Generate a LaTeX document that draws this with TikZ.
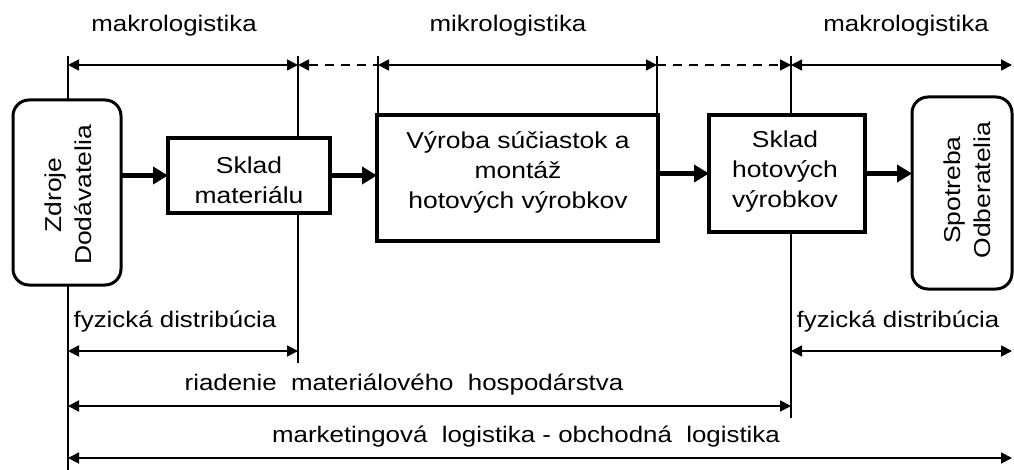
\documentclass[tikz,border=0pt]{standalone}
\usepackage{fontspec}
\setmainfont{Liberation Sans}[FakeStretch=1.15]
\usetikzlibrary{arrows.meta}
\begin{document}
\begin{tikzpicture}[x=1pt,y=-1pt,
  every node/.style={inner sep=0pt, outer sep=0pt},
  labeltext/.style={font=\fontsize{22.5}{28}\selectfont},
  boxtext/.style={font=\fontsize{23}{30}\selectfont, align=center},
  procbox/.style={draw, line width=3.5pt, fill=white},
  endbox/.style={draw, line width=3pt, fill=white, rounded corners=16pt},
  flow/.style={line width=4.5pt, -{Triangle[length=15pt,width=17pt]}},
  tipsym/.style={Triangle[length=11pt,width=11pt]},
  dimline/.style={line width=1.8pt, {Triangle[length=11pt,width=11pt]}-{Triangle[length=11pt,width=11pt]}},
  dashline/.style={line width=1.8pt, dash pattern=on 9pt off 7pt},
  guide/.style={line width=1.3pt},
]
\useasboundingbox (0,0) rectangle (1014,470);

% process chain
\node[endbox, minimum width=108pt, minimum height=185pt] (zdroje) at (67,192.5) {};
\node[boxtext, rotate=90] (zdrojetxt) at (68,195) {Zdroje\\Dodávatelia};

\node[procbox, minimum width=162pt, minimum height=75pt] (skladmat) at (249,175.5) {};
\node[boxtext] (skladmattxt) at (249,180) {Sklad\\materiálu};

\node[procbox, minimum width=281pt, minimum height=126pt] (vyroba) at (517.5,178) {};
\node[boxtext] (vyrobatxt) at (518,172) {Výroba súčiastok a\\montáž\\hotových výrobkov};

\node[procbox, minimum width=156pt, minimum height=117pt] (skladhot) at (787,173.5) {};
\node[boxtext] (skladhottxt) at (785,172) {Sklad\\hotových\\výrobkov};

\node[endbox, minimum width=100pt, minimum height=192pt] (spotreba) at (962,193) {};
\node[boxtext, rotate=90] (spotrebatxt) at (967,190) {Spotreba\\Odberatelia};

% material flow
\draw[flow] (zdroje.east |- skladmat.west) -- (skladmat.west);
\draw[flow] (skladmat.east) -- (skladmat.east -| vyroba.west);
\draw[flow] (vyroba.east |- skladhot.west) -- (skladhot.west);
\draw[flow] (skladhot.east) -- (skladhot.east -| spotreba.west);

% boundaries of the areas
\coordinate (ta) at (68,56);
\coordinate (tb) at (298,56);
\coordinate (tc) at (378,56);
\coordinate (td) at (657,56);
\coordinate (te) at (791,56);
\coordinate (tf) at (1012,56);
\coordinate (ba) at (68,470);
\coordinate (bb) at (298,363);
\coordinate (be) at (791,418);

\draw[guide] (ta) -- (ta |- zdroje.north);
\draw[guide] (ta |- zdroje.south) -- (ba);
\draw[guide] (tb) -- (tb |- skladmat.north);
\draw[guide] (tb |- skladmat.south) -- (bb);
\draw[guide] (tc) -- (tc |- vyroba.north);
\draw[guide] (td) -- (td |- vyroba.north);
\draw[guide] (te) -- (te |- skladhot.north);
\draw[guide] (te |- skladhot.south) -- (be);

% rows of dimension arrows
\coordinate (rtop) at (0,65);
\coordinate (rfd) at (0,351);
\coordinate (rrm) at (0,406);
\coordinate (rml) at (0,458);

\draw[dimline] (ta |- rtop) -- (tb |- rtop);
\draw[dashline, {Triangle[length=11pt,width=11pt]}-] (tb |- rtop) -- (tc |- rtop);
\draw[dimline] (tc |- rtop) -- (td |- rtop);
\draw[dashline, -{Triangle[length=11pt,width=11pt]}] (td |- rtop) -- (te |- rtop);
\draw[dimline] (te |- rtop) -- (tf |- rtop);

\draw[dimline] (ta |- rfd) -- (tb |- rfd);
\draw[dimline] (te |- rfd) -- (tf |- rfd);
\draw[dimline] (ta |- rrm) -- (te |- rrm);
\draw[dimline] (ta |- rml) -- (tf |- rml);

% labels
\node[labeltext] (makro1) at (174,26) {makrologistika};
\node[labeltext] (mikro) at (508,26) {mikrologistika};
\node[labeltext] (makro2) at (906,26) {makrologistika};
\node[labeltext] (fyz1) at (175,322) {fyzická distribúcia};
\node[labeltext] (fyz2) at (898,322) {fyzická distribúcia};
\node[labeltext] (riad) at (404,385) {riadenie~~materiálového~~hospodárstva};
\node[labeltext] (mark) at (526,437) {marketingová~~logistika - obchodná~~logistika};
\end{tikzpicture}
\end{document}
